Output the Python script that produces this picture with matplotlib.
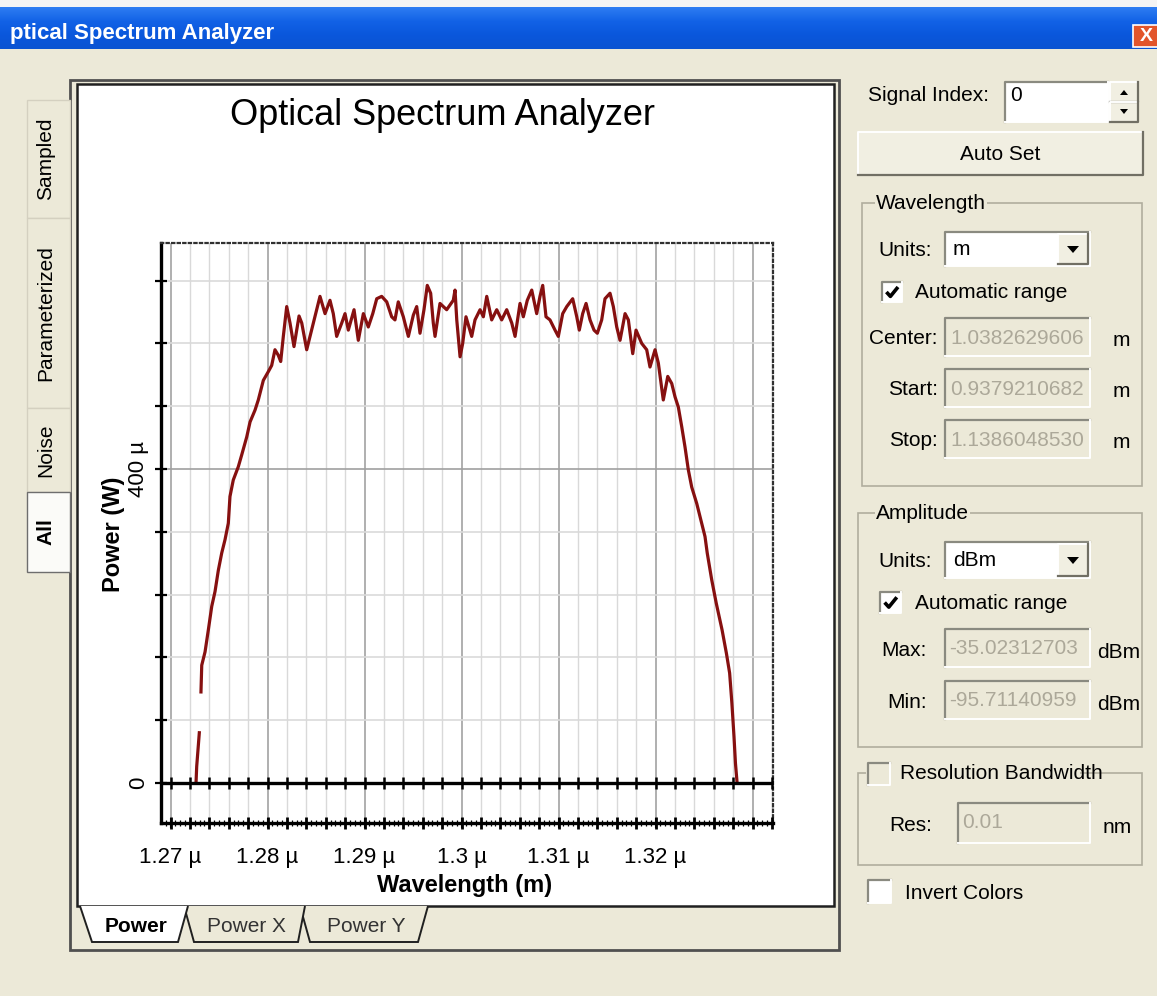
import numpy as np
import matplotlib
matplotlib.use("Agg")
import matplotlib.pyplot as plt
from matplotlib.patches import Rectangle, Polygon
from matplotlib.colors import LinearSegmentedColormap

plt.rcParams["font.family"] = ["Liberation Sans", "DejaVu Sans"]

W, H = 1157, 996
BEIGE = "#ECE9D8"
GREY_TXT = "#ACA899"

# OSA trace: wavelength in um, power in uW
# (nan = the short drop-out on the rising edge)
wavelength_um = [
    1.27263, 1.27270, 1.27297, np.nan, 1.27314, 1.27322, 1.27356, 1.27390,
    1.27425, 1.27459, 1.27493, 1.27528, 1.27562, 1.27596, 1.27613, 1.27647,
    1.27699, 1.27734, 1.27786, 1.27820, 1.27871, 1.27905, 1.27957, 1.28008,
    1.28043, 1.28077, 1.28111, 1.28136, 1.28163, 1.28198, 1.28232, 1.28273,
    1.28325, 1.28353, 1.28404, 1.28438, 1.28472, 1.28507, 1.28541, 1.28593,
    1.28644, 1.28678, 1.28713, 1.28765, 1.28799, 1.28833, 1.28892, 1.28936,
    1.28988, 1.29039, 1.29085, 1.29126, 1.29177, 1.29229, 1.29280, 1.29314,
    1.29348, 1.29400, 1.29452, 1.29503, 1.29538, 1.29572, 1.29613, 1.29647,
    1.29682, 1.29709, 1.29727, 1.29778, 1.29847, 1.29915, 1.29933, 1.29951,
    1.29985, 1.30012, 1.30046, 1.30105, 1.30139, 1.30191, 1.30225, 1.30260,
    1.30311, 1.30363, 1.30414, 1.30466, 1.30518, 1.30552, 1.30603, 1.30637,
    1.30678, 1.30724, 1.30775, 1.30809, 1.30837, 1.30871, 1.30912, 1.30964,
    1.30998, 1.31043, 1.31085, 1.31146, 1.31188, 1.31214, 1.31249, 1.31284,
    1.31325, 1.31366, 1.31400, 1.31445, 1.31479, 1.31531, 1.31565, 1.31600,
    1.31634, 1.31686, 1.31720, 1.31765, 1.31799, 1.31858, 1.31909, 1.31943,
    1.31995, 1.32029, 1.32080, 1.32126, 1.32167, 1.32201, 1.32235, 1.32270,
    1.32304, 1.32338, 1.32373, 1.32425, 1.32476, 1.32510, 1.32533, 1.32579,
    1.32626, 1.32686, 1.32731, 1.32764, 1.32787, 1.32809, 1.32824, 1.32841,
]
power_uw = [
    0, 21, 64, np.nan, 116, 150, 167, 195,
    225, 244, 271, 293, 310, 331, 365, 386,
    403, 418, 441, 460, 475, 488, 513, 524,
    532, 552, 545, 537, 569, 607, 586, 556,
    595, 586, 552, 569, 586, 603, 620, 598,
    615, 598, 569, 586, 598, 577, 603, 564,
    598, 581, 598, 617, 620, 613, 594, 590,
    613, 594, 569, 596, 607, 573, 603, 634,
    624, 586, 569, 611, 603, 615, 628, 590,
    543, 560, 594, 569, 590, 603, 594, 620,
    590, 603, 590, 603, 586, 569, 611, 594,
    615, 628, 598, 620, 634, 594, 590, 577,
    569, 598, 607, 617, 594, 577, 598, 611,
    590, 577, 573, 590, 617, 624, 607, 581,
    564, 598, 590, 547, 577, 560, 552, 530,
    552, 535, 488, 518, 509, 492, 479, 454,
    428, 399, 377, 356, 331, 314, 293, 259,
    229, 195, 165, 140, 102, 59, 25, 0,
]

x_ticks_um = [1.27, 1.28, 1.29, 1.30, 1.31, 1.32]
x_tick_labels = ["1.27 \u00b5", "1.28 \u00b5", "1.29 \u00b5", "1.3 \u00b5", "1.31 \u00b5", "1.32 \u00b5"]
y_ticks_uw = [0, 80, 160, 240, 320, 400, 480, 560, 640]
y_tick_labels = ["0", "", "", "", "", "400 \u00b5", "", "", ""]

side_tabs = ["Sampled", "Parameterized", "Noise", "All"]
side_tab_spans = [(100, 218), (218, 408), (408, 492), (492, 572)]
bottom_tabs = ["Power", "Power X", "Power Y"]
wavelength_fields = [("Center:", "1.0382629606"), ("Start:", "0.9379210682"), ("Stop:", "1.1386048530")]
amplitude_fields = [("Max:", "-35.02312703"), ("Min:", "-95.71140959")]


fig = plt.figure(figsize=(W / 100, H / 100), dpi=100)
fig.patch.set_facecolor(BEIGE)

# pixel-space canvas for the window chrome
bg = fig.add_axes([0, 0, 1, 1])
bg.set_xlim(0, W)
bg.set_ylim(H, 0)
bg.axis("off")

GUI = dict(fontsize=15, color="black")


def rect(x0, y0, x1, y1, face="none", edge="none", lw=1.0, z=2):
    bg.add_patch(Rectangle((x0, y0), x1 - x0, y1 - y0, facecolor=face,
                           edgecolor=edge, lw=lw, zorder=z))


def sunken(x0, y0, x1, y1, face="white"):
    rect(x0, y0, x1, y1, face=face)
    bg.plot([x0, x0, x1], [y1, y0, y0], color="#8A8A80", lw=1.6, zorder=3)
    bg.plot([x0, x1, x1], [y1, y1, y0], color="#FFFFFF", lw=1.4, zorder=3)


def raised(x0, y0, x1, y1, face="#F1EFE2"):
    rect(x0, y0, x1, y1, face=face)
    bg.plot([x0, x0, x1], [y1, y0, y0], color="#FFFFFF", lw=1.4, zorder=3)
    bg.plot([x0, x1, x1], [y1, y1, y0], color="#716F64", lw=1.6, zorder=3)


def group(x0, y0, x1, y1, title, tx):
    rect(x0, y0, x1, y1, edge="#B0AE9E", lw=1.2)
    bg.text(tx, y0, title, va="center", ha="left", zorder=4,
            bbox=dict(facecolor=BEIGE, edgecolor="none", pad=1), **GUI)


def checkbox(x, y, s, checked):
    sunken(x, y, x + s, y + s)
    if checked:
        bg.plot([x + 0.22 * s, x + 0.42 * s, x + 0.8 * s],
                [y + 0.5 * s, y + 0.72 * s, y + 0.25 * s],
                color="black", lw=2.6, zorder=4, solid_capstyle="butt")


def combo(x0, y0, x1, y1, value):
    sunken(x0, y0, x1, y1)
    bg.text(x0 + 8, (y0 + y1) / 2, value, va="center", ha="left", zorder=4, **GUI)
    raised(x1 - 32, y0 + 2, x1 - 2, y1 - 2)
    cx, cy = x1 - 17, (y0 + y1) / 2
    bg.add_patch(Polygon([[cx - 6, cy - 3], [cx + 6, cy - 3], [cx, cy + 4]],
                         closed=True, facecolor="black", edgecolor="none", zorder=4))


# title bar
bar = np.linspace(0, 1, 60).reshape(-1, 1)
xp_blue = LinearSegmentedColormap.from_list("xp", ["#2E7DF2", "#1262E6", "#0A57DC", "#0B54D2"])
bg.imshow(bar, extent=(0, W, 49, 7), cmap=xp_blue, aspect="auto", zorder=1)
rect(0, 0, W, 7, face="#F4F4F4", z=1)
bg.text(10, 33, "ptical Spectrum Analyzer", color="white", fontsize=16,
        fontweight="bold", va="center", ha="left", zorder=3)
rect(1133, 25, 1160, 47, face="#E2552B", edge="white", lw=1.2, z=3)
bg.text(1146, 36, "X", color="white", fontsize=14, fontweight="bold",
        va="center", ha="center", zorder=4)
bg.set_xlim(0, W)
bg.set_ylim(H, 0)

# plot panel frame
rect(70, 80, 839, 950, edge="#505050", lw=2.0)
rect(77, 84, 834, 906, face="white", edge="#202020", lw=1.8)

# vertical tabs on the left
for name, (t0, t1) in zip(side_tabs, side_tab_spans):
    sel = name == "All"
    rect(27, t0, 70, t1, face="#FBFBF8" if sel else BEIGE,
         edge="#6E6E6E" if sel else "#D4D0C0", lw=1.0)
    bg.text(46, (t0 + t1) / 2, name, rotation=90, va="center", ha="center",
            fontsize=15, fontweight="bold" if sel else "normal", zorder=4)

# bottom tabs
tab_shapes = [
    [[80, 906], [92, 942], [178, 942], [188, 906]],
    [[184, 906], [194, 942], [298, 942], [305, 906]],
    [[300, 906], [310, 942], [418, 942], [428, 906]],
]
for i in [2, 1, 0]:
    sel = i == 0
    bg.add_patch(Polygon(tab_shapes[i], closed=False, facecolor="white" if sel else BEIGE,
                         edgecolor="#202020", lw=1.4, zorder=3 + (1 if sel else 0)))
    cx = (tab_shapes[i][0][0] + tab_shapes[i][3][0]) / 2 + 2
    bg.text(cx, 926, bottom_tabs[i], va="center", ha="center", fontsize=15,
            color="black" if sel else "#333333",
            fontweight="bold" if sel else "normal", zorder=5)

# plot title
bg.text(442, 115, "Optical Spectrum Analyzer", fontsize=26, va="center",
        ha="center", zorder=4)

# right hand control panel
bg.text(868, 95, "Signal Index:", va="center", ha="left", zorder=4, **GUI)
sunken(1005, 82, 1108, 122)
bg.text(1010, 95, "0", va="center", ha="left", zorder=4, **GUI)
raised(1110, 82, 1138, 102)
raised(1110, 102, 1138, 122)
bg.add_patch(Polygon([[1120, 95], [1128, 95], [1124, 90]], facecolor="black", zorder=4))
bg.add_patch(Polygon([[1120, 109], [1128, 109], [1124, 114]], facecolor="black", zorder=4))
raised(858, 132, 1143, 175)
bg.text(1000, 154, "Auto Set", va="center", ha="center", zorder=4, **GUI)

group(862, 203, 1142, 486, "Wavelength", 876)
bg.text(878, 250, "Units:", va="center", ha="left", zorder=4, **GUI)
combo(945, 232, 1090, 266, "m")
checkbox(882, 282, 20, True)
bg.text(915, 292, "Automatic range", va="center", ha="left", zorder=4, **GUI)
for k, (lab, val) in enumerate(wavelength_fields):
    yc = 338 + k * 51
    bg.text(938, yc, lab, va="center", ha="right", zorder=4, **GUI)
    sunken(945, yc - 20, 1090, yc + 18, face=BEIGE)
    bg.text(950, yc, val, va="center", ha="left", fontsize=15, color=GREY_TXT, zorder=4)
    bg.text(1113, yc + 2, "m", va="center", ha="left", zorder=4, **GUI)

group(858, 513, 1142, 747, "Amplitude", 876)
bg.text(878, 561, "Units:", va="center", ha="left", zorder=4, **GUI)
combo(945, 542, 1090, 578, "dBm")
checkbox(880, 592, 21, True)
bg.text(915, 603, "Automatic range", va="center", ha="left", zorder=4, **GUI)
for k, (lab, val) in enumerate(amplitude_fields):
    yc = 650 + k * 52
    bg.text(927, yc, lab, va="center", ha="right", zorder=4, **GUI)
    sunken(945, yc - 21, 1090, yc + 17, face=BEIGE)
    bg.text(949, yc - 2, val, va="center", ha="left", fontsize=15, color=GREY_TXT, zorder=4)
    bg.text(1097, yc + 2, "dBm", va="center", ha="left", zorder=4, **GUI)

rect(858, 773, 1142, 865, edge="#B0AE9E", lw=1.2)
rect(866, 762, 1080, 786, face=BEIGE, z=3)
checkbox(868, 763, 22, False)
bg.text(900, 773, "Resolution Bandwidth", va="center", ha="left", zorder=4, **GUI)
bg.text(932, 825, "Res:", va="center", ha="right", zorder=4, **GUI)
sunken(958, 803, 1090, 843, face=BEIGE)
bg.text(962, 822, "0.01", va="center", ha="left", fontsize=15, color=GREY_TXT, zorder=4)
bg.text(1103, 827, "nm", va="center", ha="left", zorder=4, **GUI)

checkbox(868, 880, 23, False)
bg.text(905, 893, "Invert Colors", va="center", ha="left", zorder=4, **GUI)


# the spectrum plot itself
AX_L, AX_R, AX_T, AX_B = 161, 773, 243, 823
ax = fig.add_axes([AX_L / W, 1 - AX_B / H, (AX_R - AX_L) / W, (AX_B - AX_T) / H])
ax.set_facecolor("white")
ax.set_xlim(1.26902, 1.33211)
ax.set_ylim(-51, 688)

grid_pos = np.arange(1.270, 1.3325, 0.002)
for g in grid_pos:
    major = abs(round(g * 100) - g * 100) < 1e-6
    ax.axvline(g, color="#A9A9A9" if major else "#D9D9D9", lw=1.3 if major else 1.0, zorder=1)
for yv in y_ticks_uw[1:]:
    ax.axhline(yv, color="#A0A0A0" if yv == 400 else "#DADADA", lw=1.2, zorder=1)

ax.plot(wavelength_um, power_uw, color="#861010", lw=2.3, zorder=3)

# bold zero line with its own tick marks
ax.axhline(0, color="black", lw=2.4, zorder=4)
ax.plot(grid_pos, np.zeros_like(grid_pos), ls="none", marker="|", ms=9, mew=1.8,
        color="black", zorder=5)
ax.plot(grid_pos, np.full_like(grid_pos, -51), ls="none", marker="|", ms=8, mew=2.0,
        color="black", zorder=5, clip_on=False)

ax.set_xticks(x_ticks_um)
ax.set_xticklabels(x_tick_labels, fontsize=16)
ax.set_xticks(np.arange(1.2695, 1.3321, 0.0005), minor=True)
ax.tick_params(axis="x", which="major", direction="inout", length=7, width=1.5, pad=14)
ax.tick_params(axis="x", which="minor", direction="inout", length=4, width=0.9)
ax.set_yticks(y_ticks_uw)
ax.set_yticklabels(y_tick_labels, fontsize=16, rotation=90, va="center")
ax.tick_params(axis="y", which="major", direction="inout", length=9, width=1.6, pad=4)

for side in ("left", "bottom"):
    ax.spines[side].set_linewidth(2.4)
    ax.spines[side].set_color("black")
for side in ("top", "right"):
    ax.spines[side].set_linewidth(1.6)
    ax.spines[side].set_linestyle((0, (1, 1.5)))
    ax.spines[side].set_color("#303030")

ax.set_xlabel("Wavelength (m)", fontsize=17, fontweight="bold")
ax.xaxis.set_label_coords((465 - AX_L) / (AX_R - AX_L), -(874 - AX_B) / (AX_B - AX_T))
ax.set_ylabel("Power (W)", fontsize=17, fontweight="bold")
ax.yaxis.set_label_coords(-(AX_L - 125) / (AX_R - AX_L), (AX_B - 534) / (AX_B - AX_T))

fig.savefig("out.png", dpi=100, facecolor=BEIGE)
